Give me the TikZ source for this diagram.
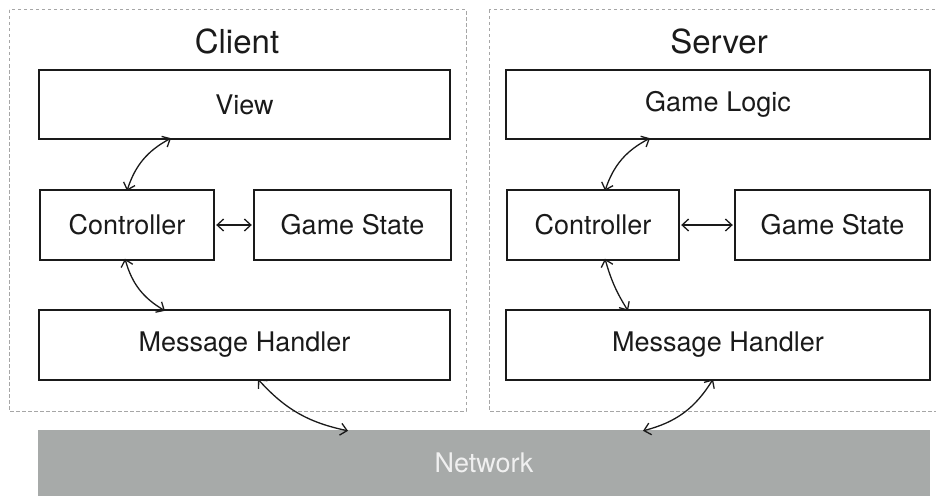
\documentclass[tikz,border=0pt]{standalone}
\usepackage{fontspec}
\setmainfont{TeX Gyre Heros}
\usetikzlibrary{arrows.meta}
\definecolor{ink}{HTML}{1A1A1A}
\definecolor{framegray}{HTML}{A6A6A6}
\definecolor{netgray}{HTML}{A7AAA9}
\begin{document}
\begin{tikzpicture}[x=1pt,y=-1pt,
  box/.style={draw=ink, line width=1.4pt, fill=white, inner sep=0pt,
    font=\fontsize{27}{30}\selectfont, text=ink, minimum height=69pt},
  frame/.style={draw=framegray, line width=1pt, dash pattern=on 3.5pt off 2.5pt},
  title/.style={font=\fontsize{33}{36}\selectfont, text=ink},
  link/.style={ink, line width=1.3pt, {Straight Barb[length=6.5pt,width=12pt]}-{Straight Barb[length=6.5pt,width=12pt]}}]
\useasboundingbox (0,0) rectangle (936,495);
\clip (0,0) rectangle (936,495);

% group frames
\draw[frame] (9,10) rectangle (466,411);
\draw[frame] (489,10) rectangle (950,411);
\node[title] (clientT) at (237,41) {Client};
\node[title] (serverT) at (719,41) {Server};

% client side
\node[box, minimum width=411pt] (cview) at (244.5,104.5) {View};
\node[box, minimum width=174pt, minimum height=70pt] (cctrl) at (127,225) {Controller};
\node[box, minimum width=197pt, minimum height=70pt] (cstate) at (352.5,225) {Game State};
\node[box, minimum width=411pt, minimum height=70pt] (cmsg) at (244.5,345) {Message Handler};

% server side
\node[box, minimum width=424pt] (slogic) at (718,104.5) {Game Logic};
\node[box, minimum width=172pt, minimum height=70pt] (sctrl) at (593,225) {Controller};
\node[box, minimum width=195pt, minimum height=70pt] (sstate) at (832.5,225) {Game State};
\node[box, minimum width=424pt, minimum height=70pt] (smsg) at (718,345) {Message Handler};

% network bar
\node[fill=netgray, minimum width=892pt, minimum height=66pt, inner sep=0pt,
  font=\fontsize{27}{30}\selectfont, text=white!94!black] (net) at (484,463) {Network};

% client connectors
\draw[link] ([yshift=-1.5pt]cctrl.north) to[bend left=22] ([xshift=-73.5pt,yshift=1.5pt]cview.south);
\draw[link] ([xshift=1.5pt]cctrl.east) -- ([xshift=-1.5pt]cstate.west);
\draw[link] ([xshift=-2pt,yshift=2pt]cctrl.south) to[bend right=22] ([xshift=-79.5pt,yshift=-1.5pt]cmsg.north);
\draw[link] ([xshift=13.5pt,yshift=1.5pt]cmsg.south) to[bend right=18] ([xshift=-136pt,yshift=-1pt]net.north);

% server connectors
\draw[link] ([xshift=12pt,yshift=-1.5pt]sctrl.north) to[bend left=22] ([xshift=-68pt,yshift=1.5pt]slogic.south);
\draw[link] ([xshift=1.5pt]sctrl.east) -- ([xshift=-1.5pt]sstate.west);
\draw[link] ([xshift=12pt,yshift=2pt]sctrl.south) to[bend right=8] ([xshift=-90pt,yshift=-1.5pt]smsg.north);
\draw[link] ([xshift=-5pt,yshift=1.5pt]smsg.south) to[bend left=22] ([xshift=159pt,yshift=-1pt]net.north);
\end{tikzpicture}
\end{document}
